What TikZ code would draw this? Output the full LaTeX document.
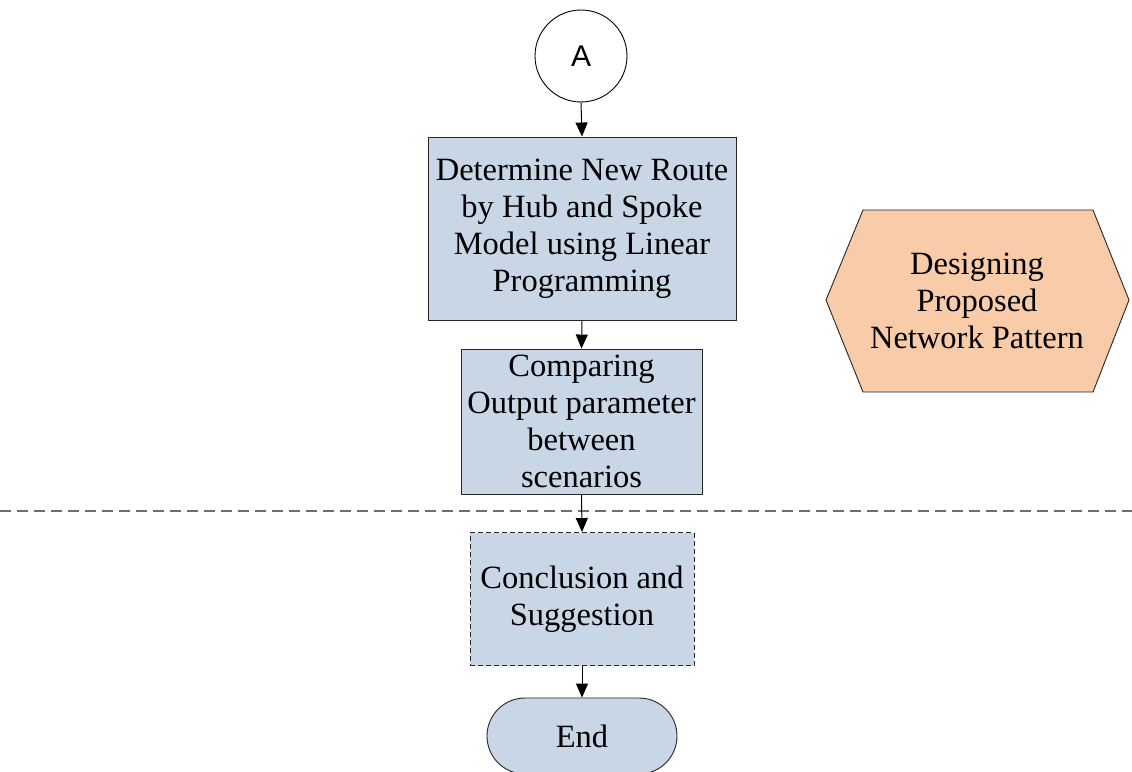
\documentclass[tikz,border=0pt]{standalone}
\usepackage{fontspec}
\setmainfont{Liberation Serif}
\newfontfamily\labelsans{Liberation Sans}
\usetikzlibrary{arrows.meta}
\definecolor{procfill}{HTML}{C9D6E6}
\definecolor{hexfill}{HTML}{F8CBA9}
\definecolor{sepgray}{HTML}{6E6E6E}
\tikzset{
  flowtext/.style={font=\fontsize{32.5}{37}\selectfont},
  flow/.style={draw=black!85, line width=0.9pt, fill=procfill, inner sep=0pt,
    align=center, flowtext},
  link/.style={draw=black, line width=1pt, -{Triangle[length=14pt,width=12pt]}},
}
\begin{document}
\begin{tikzpicture}[x=1pt,y=-1pt]
\useasboundingbox (0,0) rectangle (1132,771);

% off-page connector
\node[circle, draw=black, line width=0.9pt, fill=white, minimum size=92pt, inner sep=0pt,
  font=\labelsans\fontsize{30}{34}\selectfont] (conA) at (581,56) {A};

% process boxes
\node[flow, minimum width=308pt, minimum height=183pt] (route) at (582,228.5)
  {Determine New Route\\by Hub and Spoke\\Model using Linear\\Programming};
\node[flow, minimum width=241pt, minimum height=145pt] (compare) at (581.5,421.5)
  {Comparing\\Output parameter\\between\\scenarios};
\node[flow, dash pattern=on 5pt off 3pt, minimum width=224pt, minimum height=133pt] (concl) at (582,599)
  {Conclusion and\\Suggestion};

% terminator
\node[flow, rounded corners=38pt, minimum width=190pt, minimum height=76pt] (finish) at (582,736) {End};

% phase separator
\coordinate (sepL) at (0,511);
\coordinate (sepR) at (1132,511);
\draw[sepgray, line width=1.4pt, dash pattern=on 11pt off 6pt] (sepL) -- (sepR);

% flow arrows
\draw[link] (conA.south) -- (route.north);
\draw[link] (route.south) -- (compare.north);
\draw[link] (compare.south) -- (concl.north);
\draw[link] (concl.south) -- (finish.north);

% phase label (hexagon)
\draw[draw=black!85, line width=0.9pt, fill=hexfill]
  (826,300) -- (863,210) -- (1093,210) -- (1129,300) -- (1093,392) -- (863,392) -- cycle;
\node[align=center, inner sep=0pt, flowtext] (phase) at (977,301)
  {Designing\\Proposed\\Network Pattern};
\end{tikzpicture}
\end{document}
